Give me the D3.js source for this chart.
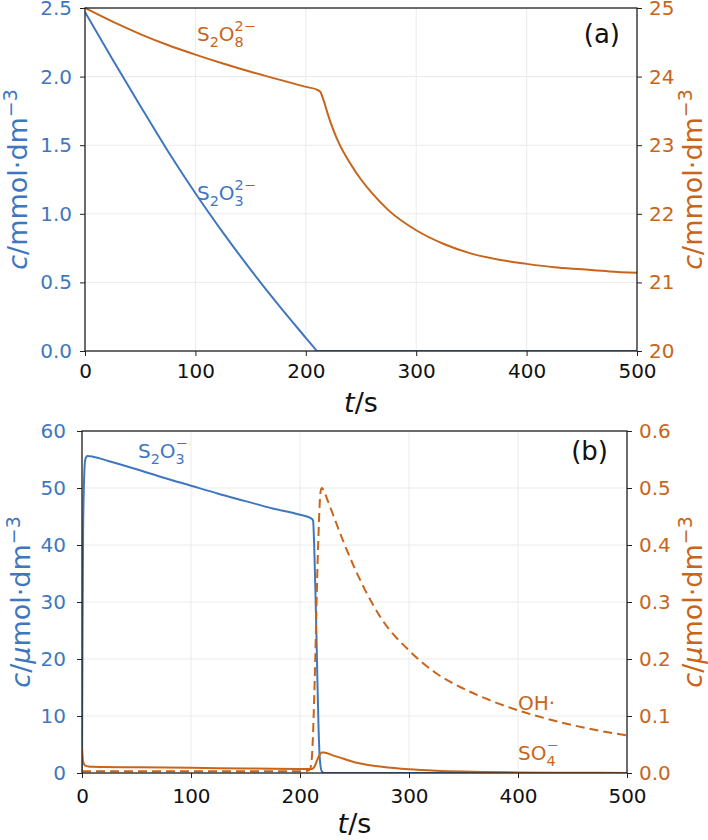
<!DOCTYPE html>
<html>
<head>
<meta charset="utf-8">
<script src="https://cdn.jsdelivr.net/npm/d3@7"></script>
<style>
  body { margin: 0; background: #fff; }
  text { font-family: "DejaVu Sans", sans-serif; }
</style>
</head>
<body>
<script>
// ---- data ----
var tTicks = [0, 100, 200, 300, 400, 500];

// (a) thiosulfate, mmol/dm3 (left axis)
var tThio = [0, 25, 50, 75, 100, 125, 150, 175, 200, 209, 210, 500];
var thio  = [2.47, 2.125, 1.788, 1.458, 1.15, 0.863, 0.593, 0.338, 0.096, 0.0094, 0, 0];

// (a) persulfate, mmol/dm3 (right axis)
var tPers = [0, 25, 50, 75, 100, 125, 150, 175, 200, 210, 213, 216, 220, 225, 230, 240, 250, 260, 275, 300, 325, 350, 375, 400, 425, 450, 475, 500];
var pers  = [25.0, 24.80, 24.62, 24.46, 24.32, 24.19, 24.07, 23.96, 23.85, 23.81, 23.78, 23.66, 23.45, 23.22, 23.03, 22.74, 22.50, 22.30, 22.05, 21.76, 21.56, 21.42, 21.33, 21.27, 21.22, 21.19, 21.16, 21.14];

// (b) S2O3- radical, umol/dm3 (left axis)
var tThioRad = [0, 0.5, 1, 2, 3, 5, 10, 25, 50, 75, 100, 125, 150, 175, 200, 210, 212, 213, 214, 215, 216, 217, 218, 219, 220, 222, 500];
var thioRad  = [0, 25, 42, 52, 55, 55.6, 55.5, 54.7, 53.3, 51.8, 50.4, 49.0, 47.7, 46.4, 45.3, 44.7, 44.3, 40, 33, 25, 16, 8, 3, 1, 0.3, 0, 0];

// (b) SO4- radical, umol/dm3 (right axis)
var tSulf = [0, 1, 3, 6, 10, 50, 100, 150, 200, 210, 212, 214, 216, 218, 220, 222, 230, 240, 250, 260, 275, 300, 325, 350, 400, 450, 500];
var sulf  = [0.045, 0.02, 0.013, 0.0115, 0.011, 0.010, 0.009, 0.008, 0.007, 0.0068, 0.008, 0.014, 0.024, 0.032, 0.036, 0.036, 0.031, 0.025, 0.019, 0.015, 0.011, 0.0065, 0.004, 0.0025, 0.001, 0.0005, 0.0002];

// (b) OH radical, umol/dm3 (right axis)
var tOH = [0, 50, 100, 150, 200, 207, 209, 210, 211, 212, 213, 214, 215, 216, 217, 218, 219, 220, 222, 225, 230, 240, 250, 260, 275, 300, 325, 350, 375, 400, 425, 450, 475, 500];
var oh  = [0.003, 0.003, 0.003, 0.003, 0.003, 0.004, 0.006, 0.012, 0.03, 0.07, 0.13, 0.2, 0.28, 0.36, 0.42, 0.47, 0.495, 0.5, 0.495, 0.48, 0.455, 0.405, 0.36, 0.32, 0.27, 0.215, 0.175, 0.148, 0.127, 0.11, 0.096, 0.084, 0.074, 0.066];

var blue = "#3f77bf", orange = "#c8651b";

var svg = d3.select("body").append("svg")
    .attr("width", 708)
    .attr("height", 840);

function zip(ts, vs) { return ts.map(function(t, i) { return [t, vs[i]]; }); }

// draw one panel (grid, axes, labels) and give back its scales
function panel(p) {
    var x = d3.scaleLinear().domain([0, 500]).range([p.left, p.right]);
    var yL = d3.scaleLinear().domain(p.yL).range([p.bottom, p.top]);
    var yR = d3.scaleLinear().domain(p.yR).range([p.bottom, p.top]);

    // grid
    var grid = svg.append("g").attr("stroke", "#ebebeb").attr("stroke-width", 1);
    grid.selectAll(".gx").data(tTicks).join("line")
        .attr("x1", function(d) { return x(d); }).attr("x2", function(d) { return x(d); })
        .attr("y1", p.top).attr("y2", p.bottom);
    grid.selectAll(".gy").data(p.ticksL).join("line")
        .attr("y1", function(d) { return yL(d); }).attr("y2", function(d) { return yL(d); })
        .attr("x1", p.left).attr("x2", p.right);

    svg.append("defs").append("clipPath").attr("id", p.id)
        .append("rect")
        .attr("x", p.left).attr("y", p.top - 2)
        .attr("width", p.right - p.left).attr("height", p.bottom - p.top + 2);

    // axes
    var gx = svg.append("g")
        .attr("transform", "translate(0," + p.bottom + ")")
        .call(d3.axisBottom(x).tickValues(tTicks).tickSizeInner(5).tickSizeOuter(0).tickPadding(p.padX).tickFormat(d3.format("d")));
    var gl = svg.append("g")
        .attr("transform", "translate(" + p.left + ",0)")
        .call(d3.axisLeft(yL).tickValues(p.ticksL).tickSizeInner(5).tickSizeOuter(0).tickPadding(p.padL).tickFormat(d3.format(p.fmtL)));
    var gr = svg.append("g")
        .attr("transform", "translate(" + p.right + ",0)")
        .call(d3.axisRight(yR).tickValues(p.ticksR).tickSizeInner(5).tickSizeOuter(0).tickPadding(7).tickFormat(d3.format(p.fmtR)));

    [gx, gl, gr].forEach(function(a) {
        a.select(".domain").remove();
        a.selectAll("text").attr("font-size", 20).attr("font-family", "DejaVu Sans");
        a.selectAll("line").attr("stroke", "#222");
    });
    gx.selectAll("text").attr("fill", "#111");
    gl.selectAll("text").attr("fill", blue);
    gr.selectAll("text").attr("fill", orange);

    // x label
    var xl = svg.append("text")
        .attr("x", (p.left + p.right) / 2).attr("y", p.xLabY)
        .attr("text-anchor", "middle").attr("font-size", 27).attr("fill", "#111");
    xl.append("tspan").attr("font-style", "italic").text("t");
    xl.append("tspan").text("/s");

    // y labels
    [[p.yLabL, blue], [p.yLabR, orange]].forEach(function(d) {
        var cy = (p.top + p.bottom) / 2;
        var t = svg.append("text")
            .attr("transform", "translate(" + d[0] + "," + cy + ") rotate(-90)")
            .attr("text-anchor", "middle").attr("font-size", 27).attr("fill", d[1]);
        t.append("tspan").attr("font-style", "italic").text("c");
        t.append("tspan").text("/");
        if (p.micro) t.append("tspan").attr("font-style", "italic").text("μ");
        t.append("tspan").text(p.micro ? "mol·dm" : "mmol·dm");
        t.append("tspan").attr("dy", "-0.55em").attr("font-size", "0.7em").text("−3");
    });

    return { x: x, yL: yL, yR: yR, id: p.id, frame: function() {
        svg.append("rect")
            .attr("x", p.left).attr("y", p.top)
            .attr("width", p.right - p.left).attr("height", p.bottom - p.top)
            .attr("fill", "none").attr("stroke", "#222").attr("stroke-width", 1.3);
    } };
}

function curve(P, y, ts, vs, color, dash) {
    var line = d3.line()
        .x(function(d) { return P.x(d[0]); })
        .y(function(d) { return y(d[1]); })
        .curve(d3.curveMonotoneX);
    svg.append("path")
        .datum(zip(ts, vs))
        .attr("clip-path", "url(#" + P.id + ")")
        .attr("d", line)
        .attr("fill", "none")
        .attr("stroke", color)
        .attr("stroke-width", 2)
        .attr("stroke-dasharray", dash || null);
}

// chemical formula with stacked sub / superscripts
function formula(x0, y0, parts, color) {
    var size = 20;
    var g = svg.append("g").attr("fill", color).attr("font-size", size);
    var x = x0;
    parts.forEach(function(p) {
        var t = g.append("text").attr("x", x).attr("y", y0).text(p[0]);
        x += t.node().getComputedTextLength();
        var w = 0;
        if (p[1]) {
            var s = g.append("text").attr("x", x).attr("y", y0 + size * 0.28).attr("font-size", size * 0.72).text(p[1]);
            w = Math.max(w, s.node().getComputedTextLength());
        }
        if (p[2]) {
            var u = g.append("text").attr("x", x).attr("y", y0 - size * 0.5).attr("font-size", size * 0.72).text(p[2]);
            w = Math.max(w, u.node().getComputedTextLength());
        }
        x += w;
    });
}

// ---- panel (a) ----
var A = panel({
    id: "clipA", left: 85, right: 637, top: 8, bottom: 351,
    yL: [0, 2.5], ticksL: [0, 0.5, 1, 1.5, 2, 2.5], fmtL: ".1f", padL: 8,
    yR: [20, 25], ticksR: [20, 21, 22, 23, 24, 25], fmtR: "d",
    padX: 8, xLabY: 412, yLabL: 27, yLabR: 702, micro: false
});
curve(A, A.yL, tThio, thio, blue);
curve(A, A.yR, tPers, pers, orange);
A.frame();
formula(197, 41, [["S", "2"], ["O", "8", "2−"]], orange);
formula(197, 200, [["S", "2"], ["O", "3", "2−"]], blue);
svg.append("text").attr("x", 620).attr("y", 43).attr("text-anchor", "end")
    .attr("font-size", 26).attr("fill", "#111").text("(a)");

// ---- panel (b) ----
var B = panel({
    id: "clipB", left: 82, right: 627, top: 431, bottom: 773,
    yL: [0, 60], ticksL: [0, 10, 20, 30, 40, 50, 60], fmtL: "d", padL: 11,
    yR: [0, 0.6], ticksR: [0, 0.1, 0.2, 0.3, 0.4, 0.5, 0.6], fmtR: ".1f",
    padX: 11, xLabY: 833, yLabL: 30, yLabR: 702, micro: true
});
curve(B, B.yL, tThioRad, thioRad, blue);
curve(B, B.yR, tSulf, sulf, orange);
curve(B, B.yR, tOH, oh, orange, "9,5");
B.frame();
formula(138, 458, [["S", "2"], ["O", "3", "−"]], blue);
svg.append("text").attr("x", 518).attr("y", 710).attr("font-size", 20).attr("fill", orange).text("OH·");
formula(518, 760, [["SO", "4", "−"]], orange);
svg.append("text").attr("x", 608).attr("y", 460).attr("text-anchor", "end")
    .attr("font-size", 26).attr("fill", "#111").text("(b)");
</script>
</body>
</html>
